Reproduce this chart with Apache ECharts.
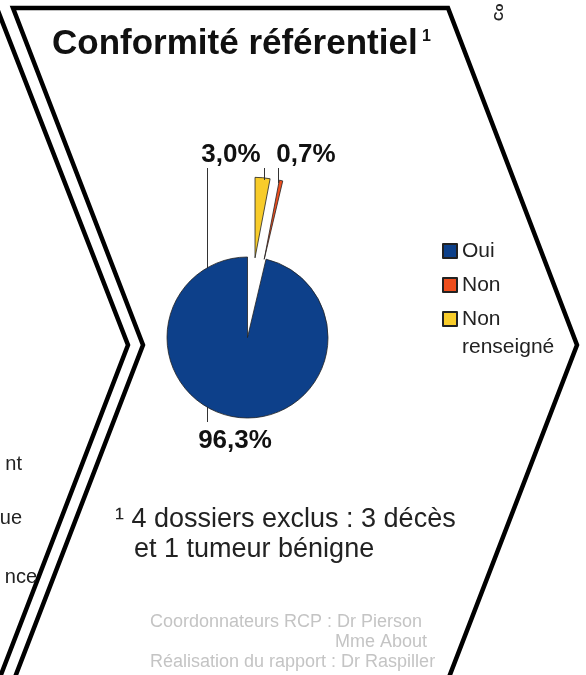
<!DOCTYPE html>
<html>
<head>
<meta charset="utf-8">
<script src="https://cdn.jsdelivr.net/npm/echarts@6/dist/echarts.min.js"></script>
<style>
	html, body { margin: 0; padding: 0; background: #fff; }
	#main { width: 586px; height: 675px; }
</style>
</head>
<body>
<div id="main"></div>
<script>
// données du camembert
var categories = [ 'Oui', 'Non', 'Non renseigné' ];
var values = [ 96.3, 0.7, 3.0 ];
var exploded = [ false, true, true ];
var colors = [ '#0D408A', '#EE4E1E', '#F8CC2A' ];

// textes autour
var titleText = 'Conformité référentiel';
var noteLines = [ '¹ 4 dossiers exclus : 3 décès', 'et 1 tumeur bénigne' ];
var creditLines = [ 'Coordonnateurs RCP : Dr Pierson', 'Mme About', 'Réalisation du rapport : Dr Raspiller' ];
var leftBits = [ 'nt', 'ue', 'nce' ];

var font = '"Liberation Sans", Arial, sans-serif';

// position des étiquettes (dans l'ordre des données) et traits de rappel
var labelPos = [ [ 235, 441 ], [ 306, 155 ], [ 231, 155 ] ];
var labelLines = [
	[ [ 207.5, 168 ], [ 207.5, 300 ], [ 207.5, 422 ] ],
	[ [ 278.5, 183 ], [ 278.5, 176 ], [ 278.5, 168 ] ],
	[ [ 264.5, 180 ], [ 264.5, 175 ], [ 264.5, 168 ] ]
];

function pct(v) {
	return v.toFixed(1).replace('.', ',') + '%';
}

var chart = echarts.init(document.getElementById('main'));

var pieData = categories.map(function(name, i) {
	return {
		name : name,
		value : values[i],
		selected : exploded[i],
		itemStyle : { color : colors[i] },
		label : { show : !exploded[i] },
		labelLine : { show : !exploded[i] }
	};
});

// étiquettes des parts détachées (l'état "select" du camembert ignore labelLayout)
var sliceLabels = [];
categories.forEach(function(name, i) {
	if (!exploded[i]) return;
	sliceLabels.push({
		type : 'text',
		x : labelPos[i][0],
		y : labelPos[i][1],
		z : 10,
		style : { text : pct(values[i]), font : 'bold 26px ' + font, fill : '#111', textAlign : 'center', textVerticalAlign : 'middle' }
	});
	sliceLabels.push({
		type : 'polyline',
		z : 10,
		shape : { points : labelLines[i] },
		style : { stroke : '#333', lineWidth : 1, fill : null }
	});
});

chart.setOption({
	animation : false,
	legend : {
		orient : 'vertical',
		left : 437,
		top : 204,
		itemWidth : 14,
		itemHeight : 14,
		itemGap : -50,
		icon : 'rect',
		selectedMode : false,
		data : categories,
		// une ligne vide au-dessus et 3 lignes pour chaque entrée : le carré reste en face de la 1re ligne
		formatter : function(name) {
			var parts = name.split(' ');
			return ' \n' + parts[0] + '\n' + (parts[1] || ' ');
		},
		textStyle : {
			fontFamily : font,
			fontSize : 21,
			color : '#222',
			lineHeight : 28
		}
	},
	graphic : [
		{
			type : 'polyline',
			z : 0,
			shape : { points : [ [ -7, -2 ], [ 128, 345 ], [ -3, 685 ] ] },
			style : { stroke : '#000', lineWidth : 4.5, fill : null }
		},
		{
			type : 'polyline',
			z : 0,
			shape : { points : [ [ 12, 685 ], [ 143, 345 ], [ 13, 8 ], [ 448, 8 ], [ 577, 345 ], [ 446, 685 ] ] },
			style : { stroke : '#000', lineWidth : 4.5, fill : null, lineJoin : 'miter' }
		},
		{
			type : 'text',
			left : 52,
			top : 27,
			style : { text : titleText, font : 'bold 35px ' + font, fill : '#111' }
		},
		{
			type : 'text',
			left : 422,
			top : 29,
			style : { text : '1', font : 'bold 16px ' + font, fill : '#111' }
		},
		{
			type : 'text',
			x : 506,
			y : 21,
			rotation : Math.PI / 2,
			style : { text : 'Co', font : 'bold 13px ' + font, fill : '#222', textAlign : 'left', textVerticalAlign : 'bottom' }
		},
		{
			type : 'text',
			left : 115,
			top : 506,
			style : { text : noteLines[0], font : '27px ' + font, fill : '#222' }
		},
		{
			type : 'text',
			left : 134,
			top : 536,
			style : { text : noteLines[1], font : '27px ' + font, fill : '#222' }
		},
		{
			type : 'text',
			left : 150,
			top : 613,
			style : { text : creditLines[0], font : '18px ' + font, fill : '#C4C4C4' }
		},
		{
			type : 'text',
			right : 586 - 427,
			top : 633,
			style : { text : creditLines[1], font : '18px ' + font, fill : '#C4C4C4' }
		},
		{
			type : 'text',
			left : 150,
			top : 653,
			style : { text : creditLines[2], font : '18px ' + font, fill : '#C4C4C4' }
		},
		{
			type : 'text',
			x : 22,
			y : 464,
			style : { text : leftBits[0], font : '20px ' + font, fill : '#222', textAlign : 'right', textVerticalAlign : 'middle' }
		},
		{
			type : 'text',
			x : 22,
			y : 518,
			style : { text : leftBits[1], font : '20px ' + font, fill : '#222', textAlign : 'right', textVerticalAlign : 'middle' }
		},
		{
			type : 'text',
			x : 37,
			y : 577,
			style : { text : leftBits[2], font : '20px ' + font, fill : '#222', textAlign : 'right', textVerticalAlign : 'middle' }
		}
	].concat(sliceLabels),
	series : [ {
		type : 'pie',
		center : [ 247.5, 337.5 ],
		radius : 80.5,
		startAngle : 90,
		clockwise : false,
		selectedMode : 'multiple',
		selectedOffset : 80,
		avoidLabelOverlap : false,
		data : pieData,
		itemStyle : {
			borderColor : '#222',
			borderWidth : 0.8
		},
		select : {
			itemStyle : { borderColor : '#222', borderWidth : 0.8 }
		},
		emphasis : { disabled : true },
		label : {
			show : true,
			position : 'outside',
			fontFamily : font,
			fontSize : 26,
			fontWeight : 'bold',
			color : '#111',
			formatter : function(p) {
				return pct(p.value);
			}
		},
		labelLine : {
			show : true,
			length : 10,
			length2 : 10,
			lineStyle : { color : '#333', width : 1 }
		},
		labelLayout : function(p) {
			var pos = labelPos[p.dataIndex];
			return {
				x : pos[0],
				y : pos[1],
				align : 'center',
				verticalAlign : 'middle',
				labelLinePoints : labelLines[p.dataIndex]
			};
		}
	} ]
});
</script>
</body>
</html>
